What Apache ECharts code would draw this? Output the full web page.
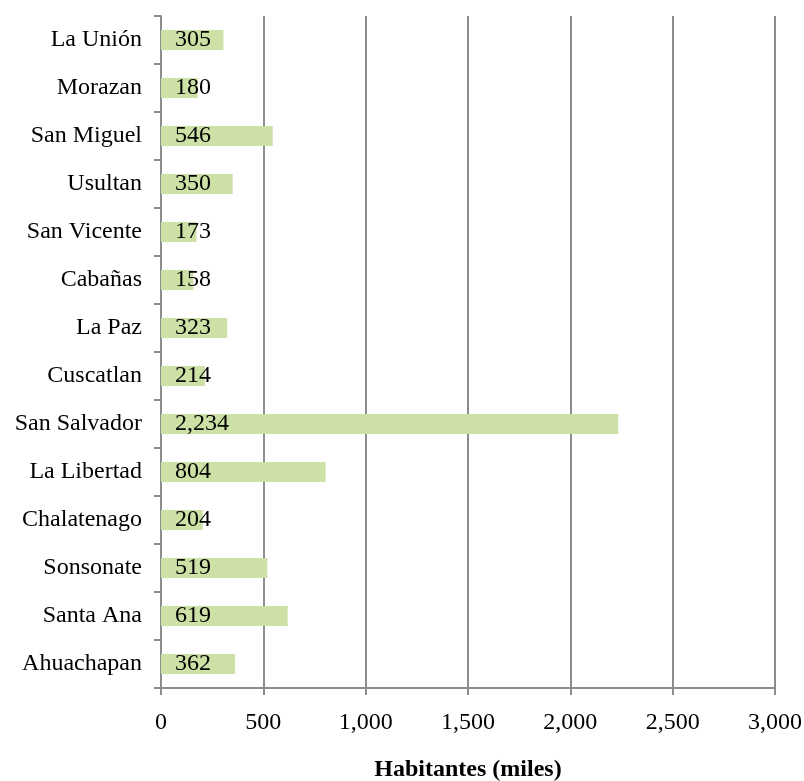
<!DOCTYPE html>
<html>
<head>
<meta charset="utf-8">
<script src="https://cdn.jsdelivr.net/npm/echarts@6/dist/echarts.min.js"></script>
<style>
  html, body { margin: 0; padding: 0; background: #fff; }
  #chart { width: 804px; height: 781px; }
</style>
</head>
<body>
<div id="chart"></div>
<script>
// Departments, bottom to top on the category axis
const departments = [
  'Ahuachapan', 'Santa Ana', 'Sonsonate', 'Chalatenago', 'La Libertad',
  'San Salvador', 'Cuscatlan', 'La Paz', 'Cabañas', 'San Vicente',
  'Usultan', 'San Miguel', 'Morazan', 'La Unión'
];
// Population in thousands
const population = [362, 619, 519, 204, 804, 2234, 214, 323, 158, 173, 350, 546, 180, 305];
const xTicks = [0, 500, 1000, 1500, 2000, 2500, 3000];

const serif = '"Liberation Serif", "DejaVu Serif", serif';
const fmt = v => Number(v).toLocaleString('en-US');

const chart = echarts.init(document.getElementById('chart'));
chart.setOption({
  animation: false,
  textStyle: { fontFamily: serif },
  grid: { left: 161, right: 29, top: 16, bottom: 93, containLabel: false, outerBoundsMode: 'none' },
  xAxis: {
    type: 'value',
    min: xTicks[0],
    max: xTicks[xTicks.length - 1],
    interval: 500,
    name: 'Habitantes (miles)',
    nameLocation: 'middle',
    nameGap: 70,
    nameTextStyle: { fontFamily: serif, fontSize: 24, fontWeight: 'bold', color: '#000' },
    axisLine: { show: true, lineStyle: { color: '#8c8c8c', width: 2 } },
    axisTick: { show: true, length: 7, lineStyle: { color: '#8c8c8c', width: 2 } },
    axisLabel: { fontFamily: serif, fontSize: 24, color: '#000', margin: 23, formatter: fmt },
    splitLine: { show: true, lineStyle: { color: '#8c8c8c', width: 2 } }
  },
  yAxis: {
    type: 'category',
    data: departments,
    axisLine: { show: true, lineStyle: { color: '#8c8c8c', width: 2 } },
    axisTick: { show: true, length: 7, lineStyle: { color: '#8c8c8c', width: 2 } },
    axisLabel: { fontFamily: serif, fontSize: 24, color: '#000', margin: 19, padding: [4, 0, 0, 0] },
    splitLine: { show: false }
  },
  series: [{
    type: 'bar',
    data: population,
    barWidth: 20,
    itemStyle: { color: '#cde0a5' },
    label: {
      show: true,
      position: 'insideLeft',
      distance: 14,
      fontFamily: serif,
      fontSize: 24,
      color: '#000',
      padding: [4, 0, 0, 0],
      formatter: p => fmt(p.value)
    }
  }]
});
</script>
</body>
</html>
